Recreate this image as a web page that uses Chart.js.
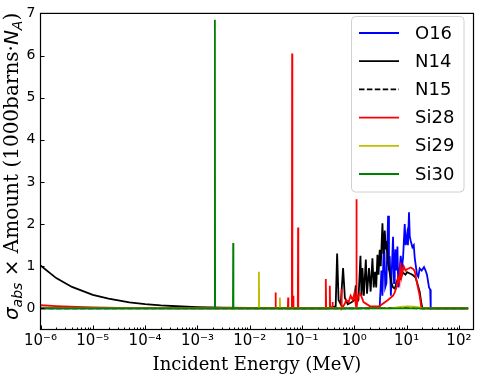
<!DOCTYPE html>
<html>
<head>
<meta charset="utf-8">
<script src="https://cdn.jsdelivr.net/npm/chart.js@4.4.0/dist/chart.umd.min.js"></script>
<style>
  body { margin: 0; background: #fff; }
  canvas { display: block; }
</style>
</head>
<body>
<canvas id="myChart" width="477" height="376"></canvas>
<script>
// incident energy (MeV) and sigma_abs x amount (1000 barns * N_A)
const o16E = [1e-6, 1e-3, 1, 3.0, 3.06, 3.30, 3.45, 3.70, 3.9, 4.11, 4.42, 4.6, 4.76, 5.0, 5.2, 5.5, 5.75, 5.93, 6.11, 6.4, 6.68, 6.9, 7.16, 7.72, 8.1, 8.55, 9.2, 9.6, 10.2, 10.6, 11.1, 11.5, 12.0, 12.9, 13.7, 14.3, 15.8, 16.7, 17.8, 19.4, 21.5, 23.0, 24.5, 26.8, 28.2, 28.9, 150];
const o16Y = [0.002, 0.001, 0.001, 0.02, 0.05, 0.9, 0.3, 1.77, 0.5, 0.6, 2.2, 0.9, 1.24, 0.3, 0.9, 1.7, 0.6, 1.1, 1.4, 0.9, 1.47, 0.5, 0.75, 1.25, 0.95, 1.2, 2.0, 1.5, 1.75, 1.5, 2.28, 1.7, 1.6, 1.45, 1.5, 1.2, 0.8, 0.75, 0.95, 0.9, 0.98, 0.9, 0.8, 0.5, 0.45, 0.0, 0.0];

const n14E = [1e-6, 2e-6, 4e-6, 1e-5, 2e-5, 5e-5, 1e-4, 2e-4, 5e-4, 1e-3, 3e-3, 0.01, 0.03, 0.1, 0.3, 0.44, 0.469, 0.50, 0.55, 0.61, 0.66, 0.75, 0.9, 1.0, 1.066, 1.12, 1.2, 1.31, 1.37, 1.43, 1.52, 1.66, 1.75, 1.91, 2.05, 2.22, 2.35, 2.49, 2.62, 2.77, 2.9, 3.06, 3.2, 3.45, 3.6, 3.82, 4.0, 4.11, 4.42, 4.8, 5.13, 5.5, 5.93, 6.4, 6.86, 7.5, 8.55, 9.5, 10.2, 11.0, 12.4, 13.5, 14.9, 16.0, 17.8, 19.0, 20.0, 150];
const n14Y = [1.02, 0.72, 0.51, 0.32, 0.23, 0.145, 0.10, 0.072, 0.046, 0.032, 0.019, 0.01, 0.006, 0.003, 0.002, 0.05, 1.30, 0.2, 0.1, 0.96, 0.25, 0.1, 0.15, 0.2, 0.55, 0.15, 0.2, 1.25, 0.3, 0.96, 0.3, 1.16, 0.35, 0.96, 0.4, 1.19, 0.5, 0.87, 0.5, 1.27, 0.8, 1.39, 1.0, 2.02, 1.3, 1.85, 1.4, 1.6, 1.08, 0.8, 0.61, 0.5, 0.47, 0.6, 0.73, 0.7, 0.85, 0.8, 0.86, 0.84, 0.81, 0.78, 0.73, 0.6, 0.39, 0.15, 0.0, 0.0];

const n15E = [1e-6, 1e-4, 0.01, 1, 5, 10, 20, 150];
const n15Y = [0.004, 0.001, 0.0, 0.0, 0.01, 0.01, 0.0, 0.0];

const si28E = [1e-6, 2e-6, 5e-6, 1e-5, 3e-5, 1e-4, 1e-3, 0.01, 0.0308, 0.0312, 0.0316, 0.0537, 0.0543, 0.0549, 0.064, 0.0647, 0.0654, 0.0676, 0.0683, 0.069, 0.0832, 0.0841, 0.085, 0.25, 0.28, 0.285, 0.29, 0.335, 0.34, 0.345, 0.378, 0.383, 0.388, 0.5, 0.56, 0.569, 0.578, 0.65, 0.7, 0.78, 0.85, 0.93, 1.0, 1.09, 1.099, 1.108, 1.18, 1.3, 1.4, 1.5, 2.0, 3.0, 4.4, 5.5, 5.93, 6.4, 6.86, 7.3, 7.62, 8.0, 8.32, 8.81, 9.5, 10.2, 12.0, 13.5, 14.3, 15.8, 17.8, 19.2, 150];
const si28Y = [0.075, 0.053, 0.034, 0.024, 0.014, 0.008, 0.003, 0.001, 0, 0.38, 0, 0, 0.26, 0, 0, 6.05, 0, 0, 0.3, 0, 0, 1.92, 0, 0, 0, 0.70, 0, 0, 0.54, 0, 0, 0.15, 0, 0, 0, 0.46, 0, 0.1, 0.2, 0.15, 0.3, 0.2, 0.35, 0, 2.59, 0, 0.3, 0.35, 0.25, 0.15, 0.05, 0.05, 0.2, 0.3, 0.38, 0.5, 0.73, 0.6, 1.08, 0.75, 0.85, 1.0, 0.9, 0.93, 0.97, 0.93, 0.88, 0.6, 0.3, 0, 0];

const si29E = [1e-6, 1e-4, 0.01, 0.0148, 0.015, 0.0152, 0.0372, 0.0377, 0.0382, 5.0, 7.0, 10.0, 14.0, 18.0, 20.0, 150];
const si29Y = [0.006, 0.001, 0, 0, 0.87, 0, 0, 0.26, 0, 0, 0.03, 0.05, 0.04, 0.02, 0, 0];

const si30E = [1e-6, 1e-4, 1e-3, 0.00214, 0.00216, 0.00218, 0.00478, 0.00483, 0.00488, 1.0, 150];
const si30Y = [0.004, 0.001, 0, 0, 6.85, 0, 0, 1.55, 0, 0, 0];

const xTickExps = [-6, -5, -4, -3, -2, -1, 0, 1, 2];
const yTicks = [0, 1, 2, 3, 4, 5, 6, 7];

const SUP = { "-": "\u207B", "0": "\u2070", "1": "\u00B9", "2": "\u00B2", "3": "\u00B3", "4": "\u2074", "5": "\u2075", "6": "\u2076", "7": "\u2077", "8": "\u2078", "9": "\u2079" };
function sup(n) {
  return String(n).split("").map(c => SUP[c]).join("");
}

function pts(E, Y) {
  return E.map((e, i) => ({ x: e, y: Y[i] }));
}

// ticks pointing in, box frame, y title with sub scripts, legend box
const axesPlugin = {
  id: "axesPlugin",
  afterDatasetsDraw(chart) {
    const ctx = chart.ctx;
    const a = chart.chartArea;
    const xs = chart.scales.x, ys = chart.scales.y;
    ctx.save();
    ctx.strokeStyle = "#000";
    ctx.lineWidth = 1;
    ctx.beginPath();
    xTickExps.forEach(p => {
      for (let m = 1; m <= 9; m++) {
        const v = m * Math.pow(10, p);
        if (v < xs.min || v > xs.max) continue;
        const px = Math.round(xs.getPixelForValue(v)) + 0.5;
        const len = m === 1 ? 4 : 2;
        ctx.moveTo(px, a.bottom);
        ctx.lineTo(px, a.bottom - len);
      }
    });
    yTicks.forEach(v => {
      const py = Math.round(ys.getPixelForValue(v)) + 0.5;
      ctx.moveTo(a.left, py);
      ctx.lineTo(a.left + 4, py);
    });
    ctx.stroke();
    ctx.lineWidth = 1.2;
    ctx.strokeRect(a.left, a.top, a.right - a.left, a.bottom - a.top);
    ctx.restore();
  },
  afterDraw(chart) {
    const ctx = chart.ctx;
    const a = chart.chartArea;
    ctx.save();
    // y title
    const big = 20, small = 14;
    const parts = [
      ["\u03C3", `italic ${big}px "DejaVu Sans"`, 0],
      ["abs", `italic ${small}px "DejaVu Sans"`, 4],
      [" \u00D7 ", `${big}px "DejaVu Sans"`, 0],
      ["Amount (1000barns\u00B7", `${big}px "DejaVu Serif"`, 0],
      ["N", `italic ${big}px "DejaVu Sans"`, 0],
      ["A", `italic ${small}px "DejaVu Sans"`, 4],
      [")", `${big}px "DejaVu Serif"`, 0]
    ];
    let total = 0;
    parts.forEach(p => { ctx.font = p[1]; p.push(ctx.measureText(p[0]).width); total += p[3]; });
    ctx.translate(18, (a.top + a.bottom) / 2 - 5);
    ctx.rotate(-Math.PI / 2);
    ctx.fillStyle = "#000";
    ctx.textBaseline = "alphabetic";
    let cx = -total / 2;
    parts.forEach(p => {
      ctx.font = p[1];
      ctx.fillText(p[0], cx, p[2]);
      cx += p[3];
    });
    ctx.restore();

    // legend
    ctx.save();
    ctx.beginPath();
    ctx.roundRect(351.5, 16.5, 112.5, 175.5, 4);
    ctx.fillStyle = "rgba(255,255,255,0.8)";
    ctx.fill();
    ctx.strokeStyle = "#d0d0d0";
    ctx.lineWidth = 1;
    ctx.stroke();
    chart.data.datasets.forEach((ds, i) => {
      const y = 33 + i * 28.2;
      ctx.beginPath();
      ctx.strokeStyle = ds.borderColor;
      ctx.lineWidth = 1.8;
      ctx.setLineDash(ds.borderDash || []);
      ctx.moveTo(359, y);
      ctx.lineTo(399, y);
      ctx.stroke();
      ctx.setLineDash([]);
      ctx.fillStyle = "#000";
      ctx.font = '18px "DejaVu Sans"';
      ctx.textBaseline = "middle";
      ctx.fillText(ds.label, 415, y + 1);
    });
    ctx.restore();
  }
};

const config = {
  type: "line",
  data: {
    datasets: [
      { label: "O16", data: pts(o16E, o16Y), borderColor: "#0000ff", order: 6 },
      { label: "N14", data: pts(n14E, n14Y), borderColor: "#000000", order: 5 },
      { label: "N15", data: pts(n15E, n15Y), borderColor: "#000000", borderDash: [5.5, 2.4], order: 4 },
      { label: "Si28", data: pts(si28E, si28Y), borderColor: "#ff0000", order: 3 },
      { label: "Si29", data: pts(si29E, si29Y), borderColor: "#bfbf00", order: 2 },
      { label: "Si30", data: pts(si30E, si30Y), borderColor: "#008000", order: 1 }
    ]
  },
  options: {
    responsive: false,
    animation: false,
    layout: { padding: { top: 7, right: 3.5, left: 0, bottom: 0 } },
    elements: {
      point: { radius: 0 },
      line: { borderWidth: 1.8, tension: 0, fill: false }
    },
    plugins: { legend: { display: false }, tooltip: { enabled: false } },
    scales: {
      x: {
        type: "logarithmic",
        min: 1e-6,
        max: 190,
        afterBuildTicks: s => { s.ticks = xTickExps.map(p => ({ value: Math.pow(10, p) })); },
        afterFit: s => { s.height = 46.5; },
        grid: { display: false, drawTicks: false },
        border: { display: false },
        ticks: {
          callback: v => "10" + sup(Math.round(Math.log10(v))),
          font: { family: "DejaVu Sans", size: 15 },
          color: "#000",
          padding: 3,
          maxRotation: 0,
          autoSkip: false
        },
        title: {
          display: true,
          text: "Incident Energy (MeV)",
          font: { family: "DejaVu Serif", size: 18 },
          color: "#000",
          padding: { top: 0, bottom: 0 }
        }
      },
      y: {
        min: -0.5,
        max: 7,
        afterBuildTicks: s => { s.ticks = yTicks.map(v => ({ value: v })); },
        afterFit: s => { s.width = 40.5; },
        grid: { display: false, drawTicks: false },
        border: { display: false },
        ticks: {
          font: { family: "DejaVu Sans", size: 14 },
          color: "#000",
          padding: 5
        }
      }
    }
  },
  plugins: [axesPlugin]
};

var myChart = new Chart(document.getElementById("myChart"), config);
</script>
</body>
</html>
